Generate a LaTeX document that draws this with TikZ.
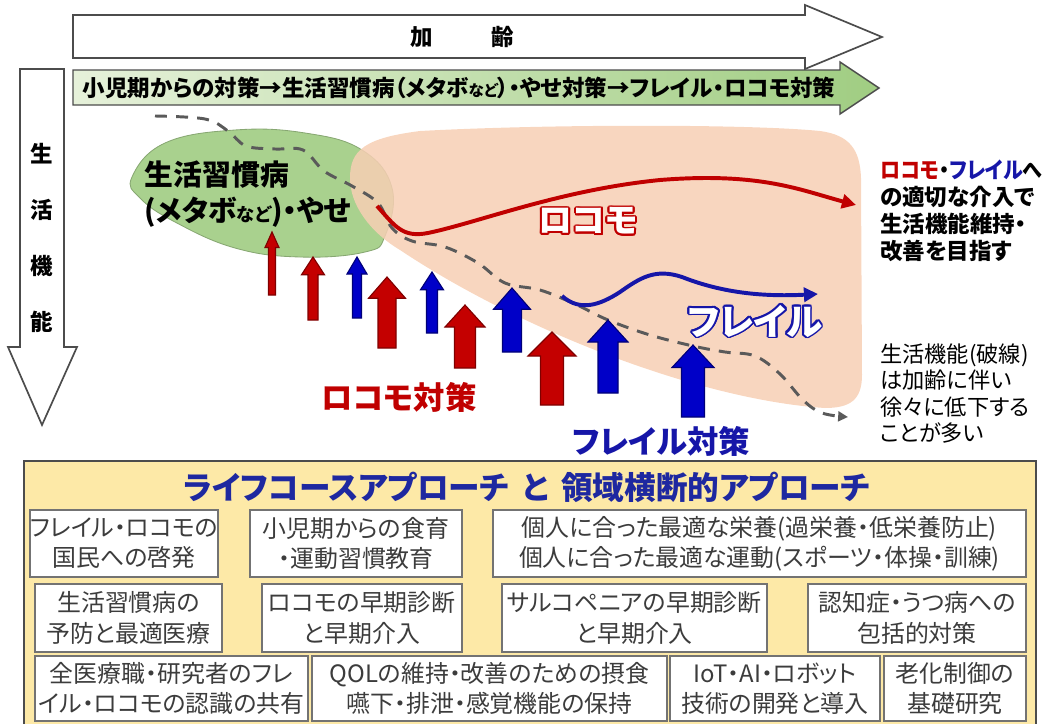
\documentclass[tikz,border=0pt]{standalone}
\usepackage{fontspec}
\setmainfont{Noto Sans CJK JP}[RawFeature=+palt]
\usepackage{xcolor}
\usepackage{graphicx}
\usepackage{contour}
\usepackage{tikz}
\usetikzlibrary{arrows.meta,positioning}
\definecolor{locored}     {RGB}{192,0,0}
\definecolor{frailblue}   {RGB}{22,22,168}
\definecolor{arrowred}    {RGB}{196,0,0}
\definecolor{arrowblue}   {RGB}{0,0,200}
\definecolor{metabogreen} {RGB}{169,209,142}
\definecolor{salmon}      {RGB}{247,207,180}
\definecolor{panelyellow} {RGB}{253,233,167}
\definecolor{titleblue}   {RGB}{30,40,160}
\definecolor{dashgray}    {RGB}{90,90,90}
\definecolor{cellgray}    {RGB}{60,60,60}
\definecolor{courseleft}  {RGB}{230,241,218}
\definecolor{courseright} {RGB}{160,205,130}
\newcommand{\jpsize}[2]{\fontsize{#1}{#2}\selectfont}

\begin{document}
\begin{tikzpicture}[
  x=0.025cm, y=-0.025cm,
  bigarrow/.style={draw=black!70,line width=1.2pt,fill=white},
  course/.style={draw=black!70,line width=1pt,left color=courseleft,right color=courseright},
  lifeline/.style={dashgray,line width=2.1pt,dash pattern=on 8.5pt off 6.5pt,
                   -{Triangle[length=7pt,width=7pt]}},
  curve/.style={line width=2.8pt,-{Triangle[length=10pt,width=10pt]}},
  uparr/.style={line width=0.8pt},
  upred/.style={uparr,fill=arrowred,draw=arrowred!65!black},
  upblue/.style={uparr,fill=arrowblue,draw=arrowblue!60!black},
  bigword/.style={font=\bfseries\jpsize{24pt}{24pt},text=white},
  measure/.style={font=\bfseries\jpsize{22.3pt}{22pt}},
  panel/.style={draw=black!70,line width=1.2pt,fill=panelyellow,
                minimum width=1012*\px,minimum height=274*\px},
  cell/.style={draw=black!55,line width=1.3pt,fill=white,align=center,inner sep=0pt,
               text=cellgray,font=\jpsize{17pt}{21.5pt}},
  row1/.style={cell,minimum height=67*\px},
  row2/.style={cell,minimum height=68*\px},
  row3/.style={cell,minimum height=65*\px},
]

\def\px{0.025cm}
\useasboundingbox (0,0) rectangle (1042,724);

%% ── Aging arrow ─────────────────────────────────────────────────────────────
\draw[bigarrow] (73,15) -- (805,15) -- (805,5) -- (882,37) -- (805,69)
  -- (805,58) -- (73,58) -- cycle;
\node[font=\bfseries\jpsize{16pt}{16pt}] (aging) at (462,37) {加\hspace{2.6em}齢};

%% ── Life-course measures arrow ──────────────────────────────────────────────
\draw[course] (73,70) -- (840,70) -- (840,62) -- (879,88) -- (840,114)
  -- (840,105) -- (73,105) -- cycle;
\node[font=\bfseries\jpsize{16pt}{16pt},anchor=west] (measures) at (78,88)
  {小児期からの対策→生活習慣病（メタボ{\jpsize{11pt}{11pt}など}）・やせ対策→フレイル・ロコモ対策};

%% ── Life function arrow (left) ──────────────────────────────────────────────
\draw[bigarrow] (20,69) -- (64,69) -- (64,347) -- (77,347) -- (42,425)
  -- (8,347) -- (20,347) -- cycle;
\node[font=\bfseries\jpsize{16pt}{40pt},align=center] (function) at (42,238)
  {生\\活\\機\\能};

%% ── Metabo blob and locomo/frailty zone ─────────────────────────────────────
\fill[metabogreen,draw=metabogreen!80!black,line width=0.6pt]
  plot[smooth cycle,tension=0.7] coordinates {(132,177) (165,143) (235,130)
  (305,133) (362,150) (392,188) (385,236) (365,252) (300,257) (235,248)
  (175,222) (140,198)};

\fill[salmon,fill opacity=0.85] (350,178) .. controls (350,150) and (365,138) .. (420,131)
  .. controls (550,124) and (750,124) .. (820,131)
  .. controls (850,135) and (860,150) .. (861,178) -- (862,375)
  .. controls (862,400) and (850,408) .. (825,408)
  .. controls (700,400) and (520,330) .. (400,250)
  .. controls (370,232) and (350,205) .. (350,178) -- cycle;

%% ── Life function (dashed) ──────────────────────────────────────────────────
\draw[lifeline] plot[smooth,tension=0.6] coordinates {(155,116) (205,119)
  (228,131) (246,146) (275,149) (303,150) (324,171) (352,186) (378,203)
  (392,228) (412,241) (445,247) (478,263) (505,283) (540,290) (575,304)
  (608,320) (650,335) (693,346) (725,352) (755,356) (780,374) (803,400)
  (822,413) (848,417)};

%% ── Intervention curves ─────────────────────────────────────────────────────
\draw[curve,locored] (377,206) .. controls (395,226) and (402,238) .. (428,233)
  .. controls (480,222) and (560,190) .. (660,180)
  .. controls (760,172) and (800,190) .. (856,205);
\draw[curve,frailblue] (562,296) .. controls (580,312) and (600,305) .. (620,292)
  .. controls (640,278) and (655,268) .. (682,277)
  .. controls (720,292) and (760,297) .. (818,294);

%% ── Measure arrows ──────────────────────────────────────────────────────────
\foreach \x/\t/\b/\hw/\sw/\c in {272/232/295/14/7/red, 313/257/320/23/10/red,
    357/257/318/20/9/blue, 387/277/348/37/18/red, 432/272/333/23/11/blue,
    465/305/368/40/21/red, 512/288/352/37/19/blue, 552/332/405/48/23/red,
    608/320/393/40/20/blue, 693/345/417/42/23/blue}{
  \pgfmathsetmacro\hh{12+0.25*\hw}
  \draw[up\c] ({\x-\sw/2},\b) -- ({\x-\sw/2},{\t+\hh}) -- ({\x-\hw/2},{\t+\hh})
    -- (\x,\t) -- ({\x+\hw/2},{\t+\hh}) -- ({\x+\sw/2},{\t+\hh})
    -- ({\x+\sw/2},\b) -- cycle;
}

%% ── Labels ──────────────────────────────────────────────────────────────────
\node[font=\bfseries\jpsize{20.5pt}{26pt},align=left,anchor=west] (metabo) at (140,194)
  {生活習慣病\\(メタボ{\jpsize{13pt}{13pt}など})・やせ};

\contourlength{1.3pt}
\node[bigword] (locoword) at (588,222) {\contour{locored}{ロコモ}};
\node[bigword,font=\bfseries\jpsize{26pt}{26pt}] (frailword) at (755,322)
  {\contour{frailblue}{フレイル}};

\node[measure,text=locored] (locomeasure) at (399,397) {ロコモ対策};
\node[measure,text=frailblue] (frailmeasure) at (661,441) {フレイル対策};

\node[font=\bfseries\jpsize{16pt}{19pt},align=left,anchor=north west,inner sep=0pt]
  (goal) at (880,160)
  {\scalebox{0.89}[1]{{\color{locored}ロコモ}・{\color{frailblue}フレイル}へ}\\
   の適切な介入で\\生活機能維持・\\改善を目指す};
\node[font=\jpsize{15.8pt}{18.5pt},align=left,anchor=north west,inner sep=0pt]
  (decline) at (880,344)
  {生活機能(破線)\\は加齢に伴い\\徐々に低下する\\ことが多い};

%% ── Approach panel ──────────────────────────────────────────────────────────
\node[panel] (panel) at (530,598) {};
\node[font=\bfseries\jpsize{22.5pt}{22.5pt},text=titleblue] (approach) at (527,487)
  {ライフコースアプローチ\hspace{0.4em}と\hspace{0.4em}領域横断的アプローチ};

\node[row1,minimum width=178*\px] (awareness) at (124,543.5) {フレイル・ロコモの\\国民への啓発};
\node[row1,minimum width=212*\px] (education) at (356,543.5) {小児期からの食育\\・運動習慣教育};
\node[row1,minimum width=533*\px] (personal)  at (759.5,543.5)
  {個人に合った最適な栄養(過栄養・低栄養防止)\\個人に合った最適な運動(スポーツ・体操・訓練)};

\node[row2,minimum width=187*\px] (prevention) at (128.5,618) {生活習慣病の\\予防と最適医療};
\node[row2,minimum width=200*\px] (locodiag)   at (362,618)   {ロコモの早期診断\\と早期介入};
\node[row2,minimum width=265*\px] (sarcodiag)  at (634.5,618) {サルコペニアの早期診断\\と早期介入};
\node[row2,minimum width=218*\px] (dementia)   at (917,618)   {認知症・うつ病への\\包括的対策};

\node[row3,minimum width=273*\px] (sharing) at (171.5,688.5) {全医療職・研究者のフレ\\イル・ロコモの認識の共有};
\node[row3,minimum width=355*\px] (qol)     at (489.5,688.5) {QOLの維持・改善のための摂食\\嚥下・排泄・感覚機能の保持};
\node[row3,minimum width=210*\px] (robot)   at (775,688.5)   {IoT・AI・ロボット\\技術の開発と導入};
\node[row3,minimum width=142*\px] (aging2)  at (955,688.5)   {老化制御の\\基礎研究};

\end{tikzpicture}
\end{document}
